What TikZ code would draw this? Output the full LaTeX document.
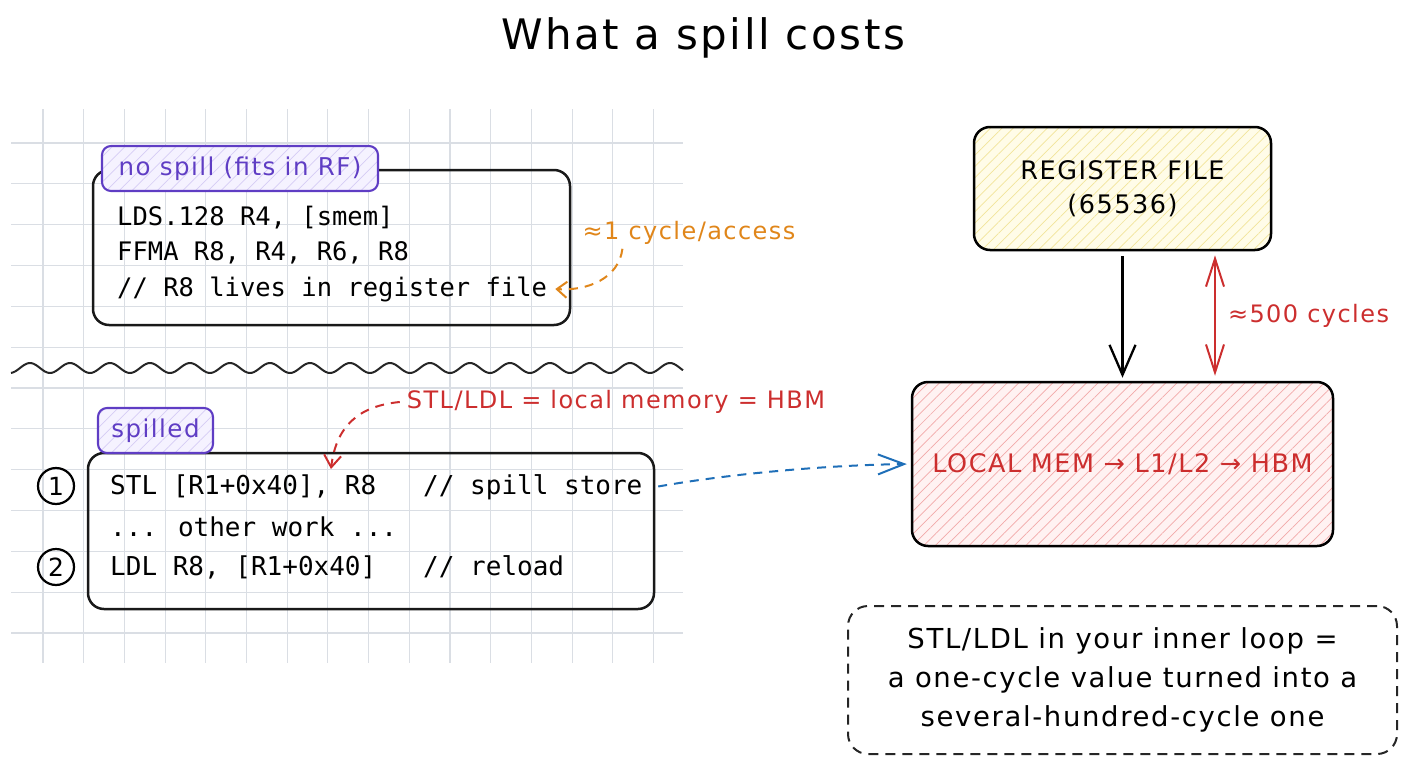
\documentclass[tikz,border=0pt]{standalone}
\usepackage{fontspec}
\setmainfont[LetterSpace=6]{DejaVu Sans}
\newfontfamily\codefont{DejaVu Sans Mono}
\usetikzlibrary{positioning,arrows.meta,patterns.meta}

\definecolor{gridgray}{HTML}{DADEE4}
\definecolor{tagpurple}{HTML}{5F3DC4}
\definecolor{tagfill}{HTML}{F5F2FF}
\definecolor{taghatch}{HTML}{D6CCF5}
\definecolor{cycorange}{HTML}{E0861A}
\definecolor{spillred}{HTML}{CC2E2E}
\definecolor{storeblue}{HTML}{1F6FB8}
\definecolor{rffill}{HTML}{FFFCE8}
\definecolor{rfhatch}{HTML}{F2E49A}
\definecolor{memfill}{HTML}{FFF2F2}
\definecolor{memhatch}{HTML}{F2A9A9}

\tikzset{
  gridline/.style={draw=gridgray, line width=1.1pt},
  wave/.style={draw=black!85, line width=2pt},
  title/.style={font=\fontsize{42}{48}\selectfont},
  hand/.style={inner sep=0pt, font=\fontsize{24}{30}\selectfont},
  codebox/.style={draw=black!90, line width=2.5pt, rounded corners=16pt},
  tagbox/.style={draw=tagpurple, line width=2.1pt, rounded corners=9pt, text=tagpurple,
    font=\fontsize{24.5}{28}\selectfont, preaction={fill=tagfill},
    pattern={Lines[angle=45,distance=9pt,line width=.7pt]}, pattern color=taghatch},
  codeline/.style={anchor=west, inner sep=0pt, font=\codefont\fontsize{25.5}{30}\selectfont},
  codeline2/.style={anchor=west, inner sep=0pt, font=\codefont\fontsize{26}{30}\selectfont},
  stepnum/.style={draw=black, circle, line width=2.2pt, minimum size=36pt, inner sep=0pt,
    font=\fontsize{25}{28}\selectfont},
  rfbox/.style={draw=black, line width=2.5pt, rounded corners=16pt, align=center,
    font=\fontsize{25.5}{34}\selectfont, preaction={fill=rffill},
    pattern={Lines[angle=45,distance=8pt,line width=.7pt]}, pattern color=rfhatch},
  membox/.style={draw=black, line width=2.5pt, rounded corners=16pt, text=spillred,
    font=\fontsize{25.5}{30}\selectfont, preaction={fill=memfill},
    pattern={Lines[angle=45,distance=8pt,line width=.7pt]}, pattern color=memhatch},
  notebox/.style={draw=black!85, line width=2pt, rounded corners=20pt, align=center,
    dash pattern=on 10pt off 7pt, font=\fontsize{27.5}{39}\selectfont},
  dasharrow/.style={line width=2pt, dash pattern=on 9pt off 7pt},
}

\begin{document}
\begin{tikzpicture}[x=1pt, y=-1pt]
  \useasboundingbox (0,0) rectangle (1408,768);

  % Squared paper behind the code
  \foreach \i in {0,...,15}
    \draw[gridline] (43+40.7*\i,109) -- (43+40.7*\i,663);
  \foreach \j in {0,...,12}
    \draw[gridline] (11,143+40.83*\j) -- (683,143+40.83*\j);

  % Tear line between the two cases
  \draw[wave] plot[domain=11:683, samples=300] (\x, {368+5*sin(9*\x)});

  % Title
  \node[title] (title) at (703,38) {What a spill costs};

  % Case 1: no spill
  \node[codebox, minimum width=477pt, minimum height=155pt] (nospill) at (331.5,247.5) {};
  \node[tagbox, minimum width=276pt, minimum height=45pt] (tagnospill) at (240,168.5) {no spill (fits in RF)};
  \node[codeline] (lds) at (117,218) {LDS.128 R4, [smem]};
  \node[codeline] (ffma) at (117,253) {FFMA R8, R4, R6, R8};
  \node[codeline] (live) at (117,289) {// R8 lives in register file};

  \node[hand, text=cycorange] (cyc) at (689,233) {≈1 cycle/access};
  \draw[dasharrow, draw=cycorange, -{Straight Barb[length=10pt,width=16pt]}]
    ([xshift=40pt,yshift=-4pt]cyc.south west) .. controls +(-4,30) and +(32,2) .. ([xshift=8pt]live.east);

  % Case 2: spilled
  \node[codebox, minimum width=566pt, minimum height=156pt] (spill) at (371,531) {};
  \node[tagbox, minimum width=115pt, minimum height=45pt] (tagspill) at (155.5,430.5) {spilled};
  \node[codeline2] (stl) at (110,487) {STL [R1+0x40], R8~~~// spill store};
  \node[codeline2] (other) at (110,527) {... other work ...};
  \node[codeline2] (ldl) at (110,567) {LDL R8, [R1+0x40]~~~// reload};
  \node[stepnum] (n1) at (56,486) {1};
  \node[stepnum] (n2) at (56,567) {2};

  \node[hand, text=spillred] (stlnote) at (616,402) {STL/LDL = local memory = HBM};
  \coordinate (stltip) at (331,469);
  \draw[dasharrow, draw=spillred, -{Straight Barb[length=12pt,width=17pt]}]
    ([xshift=-7pt]stlnote.west) .. controls +(-42,4) and +(5,-42) .. (stltip);

  % Memory hierarchy
  \node[rfbox, minimum width=297pt, minimum height=123pt] (rf) at (1122.5,188.5) {REGISTER FILE\\(65536)};
  \node[membox, minimum width=421pt, minimum height=164pt] (mem) at (1122.5,464) {LOCAL MEM → L1/L2 → HBM};

  \draw[line width=2.3pt, -{Straight Barb[length=30pt,width=26pt]}, shorten <=6pt, shorten >=3pt]
    (rf.south) -- (mem.north);
  \draw[line width=2pt, draw=spillred, {Straight Barb[length=28pt,width=18pt]}-{Straight Barb[length=28pt,width=18pt]},
    shorten <=5pt, shorten >=5pt]
    ([xshift=92.5pt]rf.south) -- node[hand, right=12pt, text=spillred] {≈500 cycles} ([xshift=92.5pt]mem.north);

  \draw[dasharrow, draw=storeblue, -{Straight Barb[length=26pt,width=20pt]}, shorten <=3pt, shorten >=4pt]
    (spill.east |- stl) .. controls +(80,-14) and +(-80,1) .. (mem.west);

  % Take-away
  \node[notebox, minimum width=549pt, minimum height=148pt] (takeaway) at (1122.5,680)
    {STL/LDL in your inner loop =\\a one-cycle value turned into a\\several-hundred-cycle one};
\end{tikzpicture}
\end{document}
